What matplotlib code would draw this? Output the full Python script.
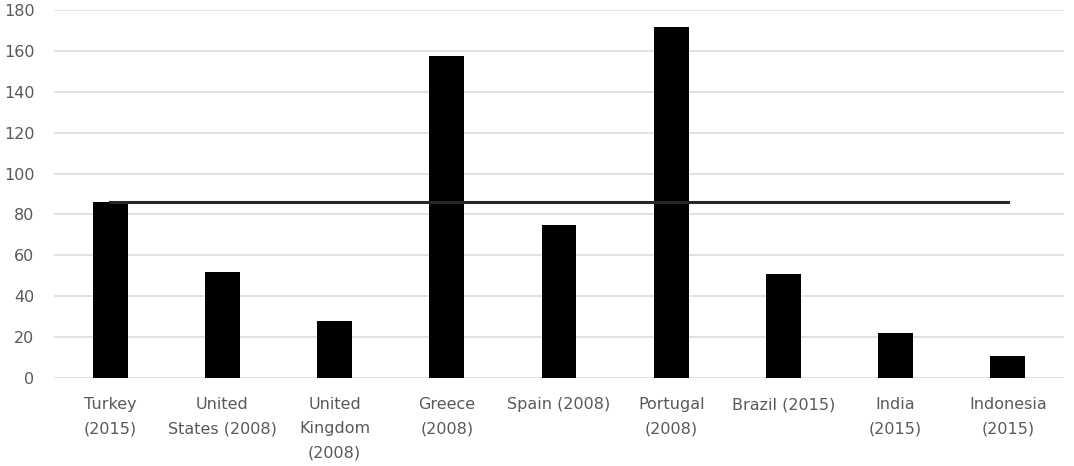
import matplotlib
matplotlib.use("Agg")
import matplotlib.pyplot as plt
import numpy as np

categories = ["Turkey\n(2015)", "United\nStates (2008)", "United\nKingdom\n(2008)",
              "Greece\n(2008)", "Spain (2008)", "Portugal\n(2008)", "Brazil (2015)",
              "India\n(2015)", "Indonesia\n(2015)"]
values = [86, 52, 28, 157.5, 75, 171.5, 50.7, 21.8, 10.9]
reference_line = [86] * len(categories)
yticks = [0, 20, 40, 60, 80, 100, 120, 140, 160, 180]

plt.rcParams['font.family'] = ['DejaVu Sans']

fig = plt.figure(figsize=(10.74, 4.66), dpi=100)
ax = fig.add_axes([54/1074, 1 - 378/466, 1010/1074, 368/466])

x = np.arange(len(categories))
ax.bar(x, values, width=0.31, color='black', zorder=3)
ax.plot(x, reference_line, color='#262626', linewidth=2.2, zorder=4)

ax.set_xlim(-0.5, len(categories) - 0.5)
ax.set_ylim(0, 180)
ax.set_yticks(yticks)
ax.set_xticks(x)
ax.set_xticklabels(categories, linespacing=1.75)
ax.grid(axis='y', color='#d9d9d9', linewidth=1.1, zorder=0)
ax.set_axisbelow(True)
for s in ax.spines.values():
    s.set_visible(False)
ax.tick_params(axis='both', length=0, labelsize=11.5, colors='#595959')
ax.tick_params(axis='x', pad=14)
ax.tick_params(axis='y', pad=14)

fig.savefig("out.png", dpi=100)
